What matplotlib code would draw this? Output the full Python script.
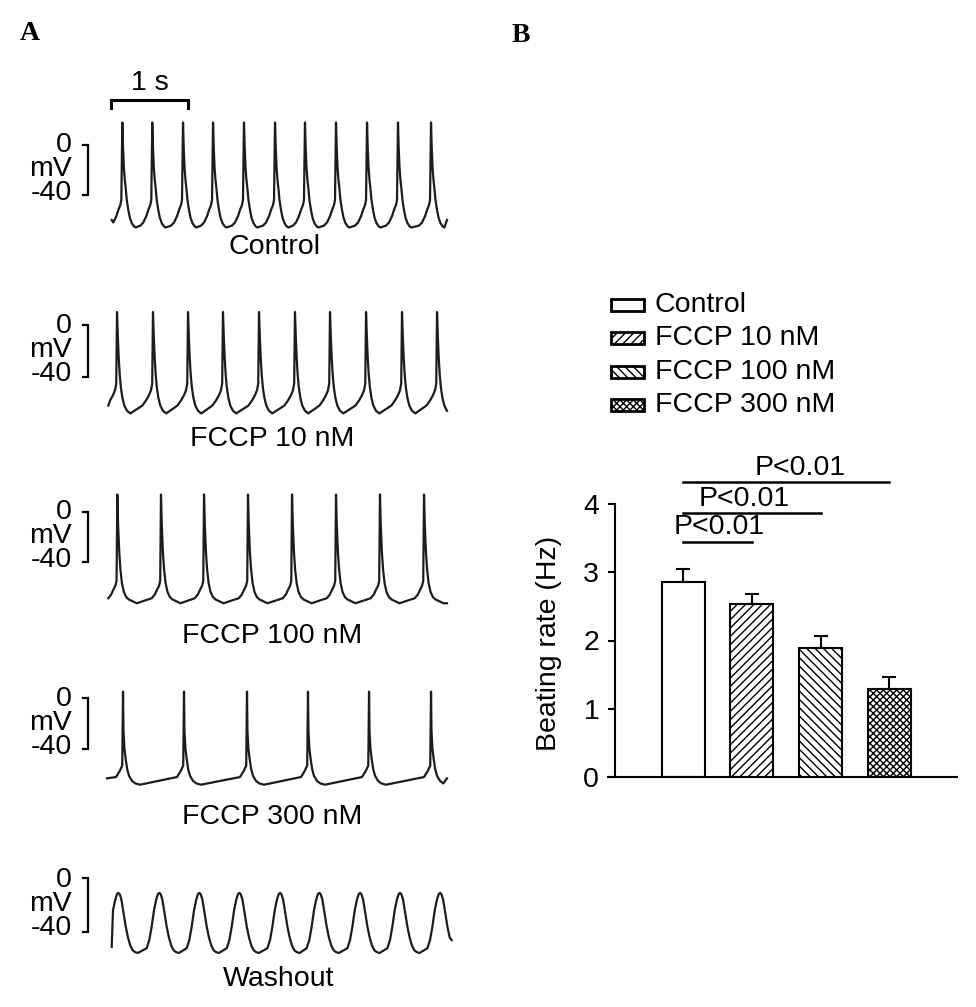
import numpy as np
import matplotlib
matplotlib.use('Agg')
import matplotlib.pyplot as plt
from matplotlib.patches import Rectangle

W, H = 976, 1007
DPI = 100
plt.rcParams['font.family'] = ['Liberation Sans', 'DejaVu Sans']
plt.rcParams['hatch.linewidth'] = 1.0

# ---------------- Panel A data (read from the recordings) ----------------
trace_labels = ['Control', 'FCCP 10 nM', 'FCCP 100 nM', 'FCCP 300 nM', 'Washout']

# peak times of each action potential (s)
spikes_control = [0.290, 0.679, 1.078, 1.468, 1.870, 2.273, 2.662, 3.065, 3.468, 3.870, 4.299]
spikes_fccp10 = [0.221, 0.688, 1.143, 1.597, 2.065, 2.532, 2.987, 3.455, 3.922, 4.377]
spikes_fccp100 = [0.225, 0.792, 1.351, 1.922, 2.494, 3.065, 3.636, 4.208]
spikes_fccp300 = [0.299, 1.091, 1.909, 2.701, 3.494, 4.299]
spikes_washout = [0.238, 0.770, 1.290, 1.810, 2.338, 2.848, 3.377, 3.896, 4.416]

# action-potential shape around each peak: time from peak (ms), potential (mV)
ap_ms_control = [-156, -117, -78, -52, -26, -13, 0, 9, 20, 32, 43, 58, 78, 97, 123, 150, 173]
ap_mv_control = [-64.5, -62, -57, -52, -48, -44, 18, -2, -18, -28, -34, -44, -52, -58, -62.5, -65, -66]
ap_ms_fccp10 = [-138, -90, -52, -25, -10, 0, 10, 22, 35, 50, 70, 95, 130, 173]
ap_mv_fccp10 = [-62, -58, -54, -50, -45, 10, -8, -25, -38, -48, -56, -62, -66, -68]
ap_ms_fccp100 = [-121, -80, -50, -25, -10, 0, 10, 25, 40, 60, 85, 115, 150, 253]
ap_mv_fccp100 = [-69, -66, -62, -59, -55, 14, -10, -32, -46, -57, -64, -68, -70, -73]
ap_ms_fccp300 = [-91, -40, -26, -10, 0, 6, 19, 35, 55, 78, 117, 160, 221]
ap_mv_fccp300 = [-62, -57, -55, -53, 5, -26, -40, -48, -56, -61, -65, -67, -68]
ap_ms_washout = [-164, -130, -99, -69, -40, -18, 0, 18, 40, 65, 96, 125, 155, 185, 220, 255]
ap_mv_washout = [-52, -46, -36, -24, -16, -12, -11, -12, -16, -25, -36, -44, -50, -53.5, -55, -55.5]

# first and last recorded sample of each trace (s, mV)
trace_start = [(0.152, -60), (0.108, -62), (0.108, -69), (0.091, -63), (0.152, -51)]
trace_end = [(4.506, -60), (4.506, -66), (4.506, -73), (4.506, -63), (4.567, -46)]

all_spikes = [spikes_control, spikes_fccp10, spikes_fccp100, spikes_fccp300, spikes_washout]
all_ms = [ap_ms_control, ap_ms_fccp10, ap_ms_fccp100, ap_ms_fccp300, ap_ms_washout]
all_mv = [ap_mv_control, ap_mv_fccp10, ap_mv_fccp100, ap_mv_fccp300, ap_mv_washout]

# ---------------- Panel B data ----------------
groups = ['Control', 'FCCP 10 nM', 'FCCP 100 nM', 'FCCP 300 nM']
rate_mean = [2.86, 2.53, 1.89, 1.29]
rate_sem = [0.19, 0.15, 0.18, 0.18]
hatches = ['', '////', '\\\\\\\\', 'xxxxx']
sig_pairs = [(0, 3), (0, 2), (0, 1)]
sig_text = ['P<0.01', 'P<0.01', 'P<0.01']

# ---------------- layout helpers ----------------
fig = plt.figure(figsize=(W / DPI, H / DPI), dpi=DPI)
over = fig.add_axes([0, 0, 1, 1])
over.set_xlim(0, W)
over.set_ylim(H, 0)
over.axis('off')
over.patch.set_visible(False)

px_per_s = 77.0
zero_px = [145, 325, 512, 698, 878]
px_per_mv = [1.25, 1.30, 1.25, 1.275, 1.35]
label_xy = [(274, 247), (272.5, 439), (272.5, 636), (272.5, 817), (279, 979)]
FS = 20.5


def build(spikes, ms, mv, start, end):
    t = [start[0]]
    v = [start[1]]
    for s in spikes:
        for d, m in zip(ms, mv):
            tt = s + d / 1000.0
            if start[0] < tt < end[0]:
                t.append(tt)
                v.append(m)
    t.append(end[0])
    v.append(end[1])
    return np.array(t), np.array(v)


trace_axes = []
for i in range(5):
    y0 = zero_px[i]
    sc = px_per_mv[i]
    top_px, bot_px = y0 - 45, y0 + 110
    ax = fig.add_axes([100 / W, 1 - bot_px / H, 360 / W, (bot_px - top_px) / H])
    ax.set_xlim(0, 360 / px_per_s)
    ax.set_ylim(-110 / sc, 45 / sc)
    ax.axis('off')
    ax.patch.set_visible(False)
    t, v = build(all_spikes[i], all_ms[i], all_mv[i], trace_start[i], trace_end[i])
    ax.plot(t, v, color='#1c1c1c', lw=1.6, solid_joinstyle='round', clip_on=False)
    # 40 mV scale bracket
    xb = -12 / px_per_s
    xt = -17 / px_per_s
    ax.plot([xt, xb, xb, xt], [0, 0, -40, -40], color='black', lw=1.6,
            clip_on=False, solid_joinstyle='miter')
    xl = -28 / px_per_s
    ax.text(xl, -19.5, '0\nmV\n-40', ha='right', va='center', multialignment='right',
            linespacing=0.9, fontsize=FS, clip_on=False)
    over.text(label_xy[i][0], label_xy[i][1], trace_labels[i], ha='center',
              va='center', fontsize=FS)
    trace_axes.append(ax)

# 1 s time scale bar on the control trace
ax0 = trace_axes[0]
x1, x2 = 11 / px_per_s, 11 / px_per_s + 1.0
ax0.plot([x1, x1, x2, x2], [29.5, 36, 36, 29.5], color='black', lw=2.2,
         clip_on=False, solid_joinstyle='miter')
ax0.text((x1 + x2) / 2, 50, '1 s', ha='center', va='center', fontsize=FS)

# panel letters
over.text(30, 34, 'A', ha='center', va='center', fontsize=20, fontweight='bold',
          family=['Liberation Serif', 'DejaVu Serif'])
over.text(521, 35, 'B', ha='center', va='center', fontsize=20, fontweight='bold',
          family=['Liberation Serif', 'DejaVu Serif'])

# ---------------- Panel B ----------------
unit = 68.8
axb = fig.add_axes([608 / W, 1 - 777 / H, 349 / W, 273 / H])
axb.set_xlim((608 - 683) / unit, (957 - 683) / unit)
axb.set_ylim(0, 4)
xpos = np.arange(len(groups))
axb.bar(xpos, rate_mean, width=0.625, color='white', edgecolor='black',
        linewidth=1.5, hatch=hatches, zorder=2)
axb.errorbar(xpos, rate_mean, yerr=[np.zeros(len(rate_sem)), rate_sem], fmt='none',
             ecolor='black', elinewidth=1.5, capsize=4.7, capthick=1.5, zorder=3)
for s in ['top', 'right']:
    axb.spines[s].set_visible(False)
for s in ['left', 'bottom']:
    axb.spines[s].set_linewidth(1.5)
axb.spines['left'].set_position(('axes', 7 / 349))
axb.set_xticks([])
axb.set_yticks([0, 1, 2, 3, 4])
axb.tick_params(axis='y', direction='out', length=5.4, width=1.5, pad=6,
                labelsize=FS)
axb.set_ylabel('Beating rate (Hz)', fontsize=FS)
axb.yaxis.set_label_coords((562 - 608) / 349, (777 - 643) / 273)

sig_y = [4.32, 3.87, 3.44]
sig_txt_pos = [(1.70, 4.53), (0.89, 4.07), (0.52, 3.66)]
for (a, b), yy, (tx, ty), lab in zip(sig_pairs, sig_y, sig_txt_pos, sig_text):
    axb.plot([xpos[a], xpos[b]], [yy, yy], color='black', lw=1.8, clip_on=False)
    axb.text(tx, ty, lab, ha='center', va='center', fontsize=FS, clip_on=False)

# legend (manual, pixel layout)
for i, (g, h) in enumerate(zip(groups, hatches)):
    yc = 305 + 33.4 * i
    over.add_patch(Rectangle((611, yc - 6), 33, 12, facecolor='white',
                             edgecolor='black', lw=2.0, hatch=h))
    over.text(655, yc, g, ha='left', va='center', fontsize=FS)

fig.savefig('out.png', dpi=DPI)
